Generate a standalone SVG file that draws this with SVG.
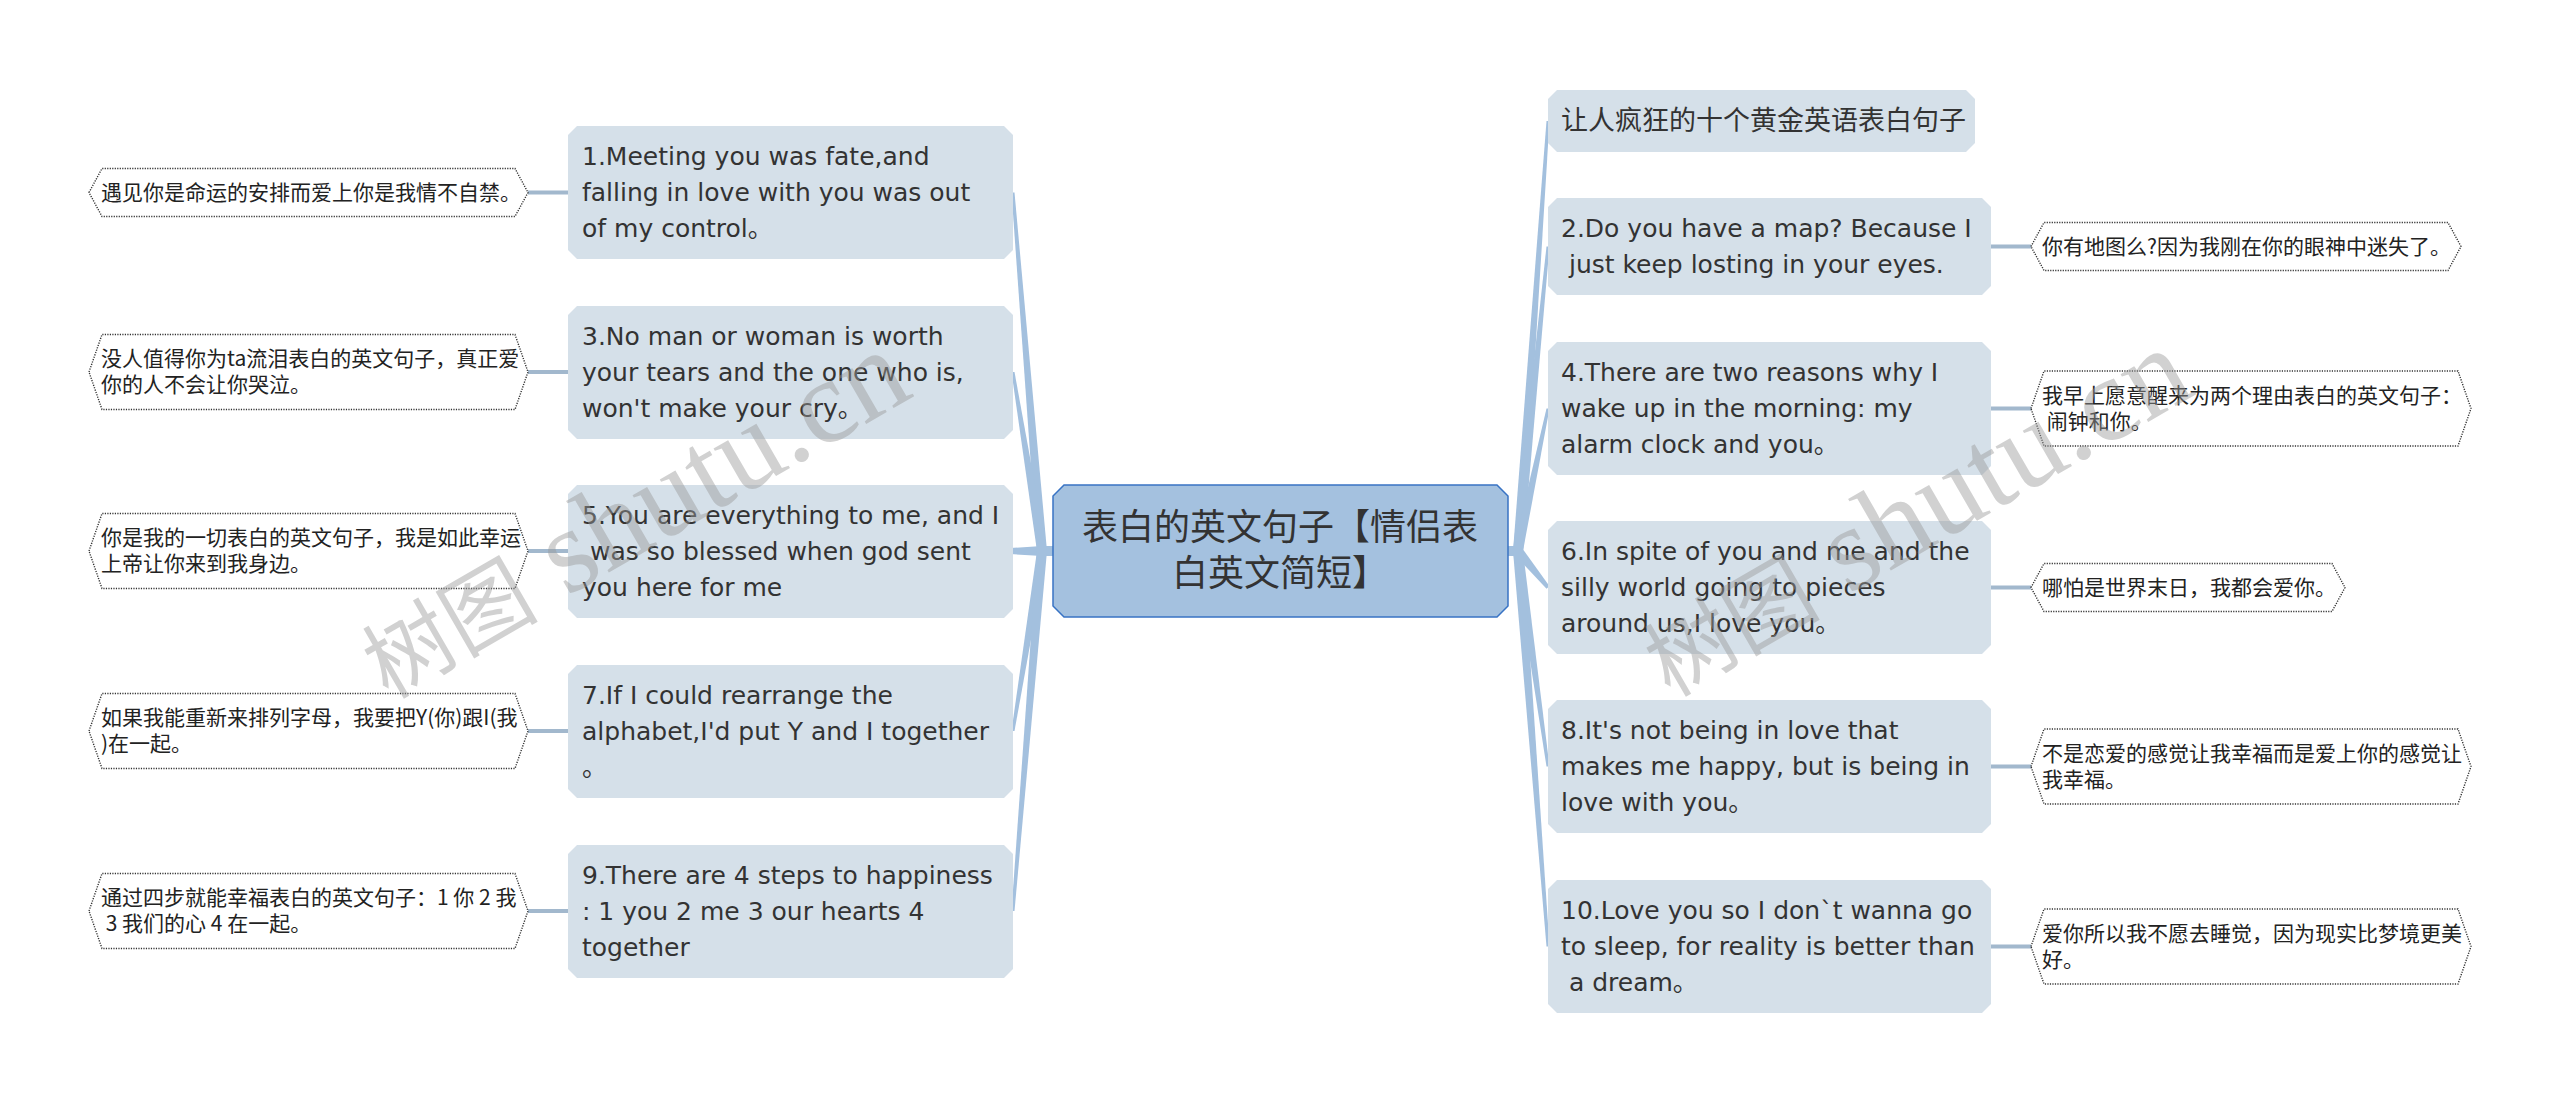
<svg xmlns="http://www.w3.org/2000/svg" xmlns:xlink="http://www.w3.org/1999/xlink" width="2560" height="1103" viewBox="0 0 2560 1103">
<style>
.nodebox{fill:#d5e0e9;}
.center{fill:#a4c1df;stroke:#3873c4;stroke-width:1.5;}
.leafbox{fill:#ffffff;stroke:#333;stroke-width:1.4;stroke-dasharray:1.2 1.3;}
.wedge{fill:#a3c0de;}
.leafline{stroke:#a2b8cd;stroke-width:4;fill:none;}
.en{font-family:"DejaVu Sans","Noto Sans CJK SC",sans-serif;font-size:25px;fill:#333;white-space:pre;}
.cn{font-family:"Noto Sans CJK SC",sans-serif;font-size:27px;fill:#333;}
.ct{font-family:"Noto Sans CJK SC",sans-serif;font-size:36px;fill:#333;text-anchor:middle;}
.lf{font-family:"Noto Sans CJK SC",sans-serif;font-size:21px;fill:#222;white-space:pre;}
.wm{fill:#9a9a9a;opacity:0.45;white-space:pre;}
</style>
<defs>
<path id="n3" d="M9,0 H436 L445,9 V124 L436,133 H9 L0,124 V9 Z"/>
<path id="n3r" d="M9,0 H434 L443,9 V124 L434,133 H9 L0,124 V9 Z"/>
<path id="n2r" d="M9,0 H434 L443,9 V88 L434,97 H9 L0,88 V9 Z"/>
<path id="n1r" d="M9,0 H418 L427,9 V53 L418,62 H9 L0,53 V9 Z"/>
<path id="hexL1" d="M0,24 L13,0 H426 L439,24 L426,48 H13 Z"/>
<path id="hexL2" d="M0,37.5 L13,0 H426 L439,37.5 L426,75 H13 Z"/>
<path id="hexR2s" d="M0,24 L13,0 H417 L430,24 L417,48 H13 Z"/>
<path id="hexR6" d="M0,24 L13,0 H301 L314,24 L301,48 H13 Z"/>
<path id="hexR2" d="M0,37.5 L13,0 H427 L440,37.5 L427,75 H13 Z"/>
</defs>

<g id="connectors">
  <rect class="wedge" x="1040" y="546" width="16" height="10"/>
  <rect class="wedge" x="1505" y="546" width="16" height="10"/>
  <polygon class="wedge" points="1037,551 1011.5,192.5 1014.5,192.5 1047,551"/>
  <polygon class="wedge" points="1037,551 1011.5,372 1014.5,372 1047,551"/>
  <polygon class="wedge" points="1042,546 1010,548 1010,554 1042,556"/>
  <polygon class="wedge" points="1037,551 1011.5,731 1014.5,731 1047,551"/>
  <polygon class="wedge" points="1037,551 1011.5,911 1014.5,911 1047,551"/>
  <polygon class="wedge" points="1513,551 1546.5,121 1549.5,121 1523,551"/>
  <polygon class="wedge" points="1513,551 1546.5,246.5 1549.5,246.5 1523,551"/>
  <polygon class="wedge" points="1513,551 1546.5,408.5 1549.5,408.5 1523,551"/>
  <polygon class="wedge" points="1514.2,554.3 1546.5,588.8 1549.5,586.2 1521.8,547.7"/>
  <polygon class="wedge" points="1513,551 1546.5,766.5 1549.5,766.5 1523,551"/>
  <polygon class="wedge" points="1513,551 1546.5,946.5 1549.5,946.5 1523,551"/>
  <line class="leafline" x1="528" y1="192.5" x2="568" y2="192.5"/>
  <line class="leafline" x1="528" y1="372" x2="568" y2="372"/>
  <line class="leafline" x1="528" y1="551" x2="568" y2="551"/>
  <line class="leafline" x1="528" y1="731" x2="568" y2="731"/>
  <line class="leafline" x1="528" y1="911" x2="568" y2="911"/>
  <line class="leafline" x1="1991" y1="246.5" x2="2031" y2="246.5"/>
  <line class="leafline" x1="1991" y1="408.5" x2="2031" y2="408.5"/>
  <line class="leafline" x1="1991" y1="587.5" x2="2031" y2="587.5"/>
  <line class="leafline" x1="1991" y1="766.5" x2="2031" y2="766.5"/>
  <line class="leafline" x1="1991" y1="946.5" x2="2031" y2="946.5"/>
</g>

<g id="root">
  <polygon class="center" points="1064,485 1497,485 1508,496 1508,606 1497,617 1064,617 1053,606 1053,496"/>
  <text class="ct"><tspan x="1280" y="540">表白的英文句子【情侣表</tspan><tspan x="1280" y="586">白英文简短】</tspan></text>
</g>

<g id="n1">
  <use xlink:href="#n3" class="nodebox" x="568" y="126"/>
  <text class="en"><tspan x="582" y="165">1.Meeting you was fate,and</tspan><tspan x="582" y="201">falling in love with you was out</tspan><tspan x="582" y="237">of my control。</tspan></text>
</g>
<g id="n3node">
  <use xlink:href="#n3" class="nodebox" x="568" y="306"/>
  <text class="en"><tspan x="582" y="345">3.No man or woman is worth</tspan><tspan x="582" y="381">your tears and the one who is,</tspan><tspan x="582" y="417">won't make your cry。</tspan></text>
</g>
<g id="n5">
  <use xlink:href="#n3" class="nodebox" x="568" y="485"/>
  <text class="en"><tspan x="582" y="524">5.You are everything to me, and I</tspan><tspan x="582" y="560"> was so blessed when god sent</tspan><tspan x="582" y="596">you here for me</tspan></text>
</g>
<g id="n7">
  <use xlink:href="#n3" class="nodebox" x="568" y="665"/>
  <text class="en"><tspan x="582" y="704">7.If I could rearrange the</tspan><tspan x="582" y="740">alphabet,I'd put Y and I together</tspan><tspan x="582" y="776">。</tspan></text>
</g>
<g id="n9">
  <use xlink:href="#n3" class="nodebox" x="568" y="845"/>
  <text class="en"><tspan x="582" y="884">9.There are 4 steps to happiness</tspan><tspan x="582" y="920">: 1 you 2 me 3 our hearts 4</tspan><tspan x="582" y="956">together</tspan></text>
</g>

<g id="n0">
  <use xlink:href="#n1r" class="nodebox" x="1548" y="90"/>
  <text class="cn" x="1561" y="130">让人疯狂的十个黄金英语表白句子</text>
</g>
<g id="n2">
  <use xlink:href="#n2r" class="nodebox" x="1548" y="198"/>
  <text class="en"><tspan x="1561" y="237">2.Do you have a map? Because I</tspan><tspan x="1561" y="273"> just keep losting in your eyes.</tspan></text>
</g>
<g id="n4">
  <use xlink:href="#n3r" class="nodebox" x="1548" y="342"/>
  <text class="en"><tspan x="1561" y="381">4.There are two reasons why I</tspan><tspan x="1561" y="417">wake up in the morning: my</tspan><tspan x="1561" y="453">alarm clock and you。</tspan></text>
</g>
<g id="n6">
  <use xlink:href="#n3r" class="nodebox" x="1548" y="521"/>
  <text class="en"><tspan x="1561" y="560">6.In spite of you and me and the</tspan><tspan x="1561" y="596">silly world going to pieces</tspan><tspan x="1561" y="632">around us,I love you。</tspan></text>
</g>
<g id="n8">
  <use xlink:href="#n3r" class="nodebox" x="1548" y="700"/>
  <text class="en"><tspan x="1561" y="739">8.It's not being in love that</tspan><tspan x="1561" y="775">makes me happy, but is being in</tspan><tspan x="1561" y="811">love with you。</tspan></text>
</g>
<g id="n10">
  <use xlink:href="#n3r" class="nodebox" x="1548" y="880"/>
  <text class="en"><tspan x="1561" y="919">10.Love you so I don`t wanna go</tspan><tspan x="1561" y="955">to sleep, for reality is better than</tspan><tspan x="1561" y="991"> a dream。</tspan></text>
</g>

<g id="leaf1">
  <use xlink:href="#hexL1" class="leafbox" x="89" y="168.5"/>
  <text class="lf" x="101" y="199.5">遇见你是命运的安排而爱上你是我情不自禁。</text>
</g>
<g id="leaf3">
  <use xlink:href="#hexL2" class="leafbox" x="89" y="334.5"/>
  <text class="lf"><tspan x="101" y="366">没人值得你为ta流泪表白的英文句子，真正爱</tspan><tspan x="101" y="392">你的人不会让你哭泣。</tspan></text>
</g>
<g id="leaf5">
  <use xlink:href="#hexL2" class="leafbox" x="89" y="513.5"/>
  <text class="lf"><tspan x="101" y="545">你是我的一切表白的英文句子，我是如此幸运</tspan><tspan x="101" y="571">上帝让你来到我身边。</tspan></text>
</g>
<g id="leaf7">
  <use xlink:href="#hexL2" class="leafbox" x="89" y="693.5"/>
  <text class="lf"><tspan x="101" y="725">如果我能重新来排列字母，我要把Y(你)跟I(我</tspan><tspan x="101" y="751">)在一起。</tspan></text>
</g>
<g id="leaf9">
  <use xlink:href="#hexL2" class="leafbox" x="89" y="873.5"/>
  <text class="lf"><tspan x="101" y="905">通过四步就能幸福表白的英文句子：1 你 2 我</tspan><tspan x="101" y="931"> 3 我们的心 4 在一起。</tspan></text>
</g>

<g id="leaf2">
  <use xlink:href="#hexR2s" class="leafbox" x="2031" y="222.5"/>
  <text class="lf" x="2042" y="253.5">你有地图么?因为我刚在你的眼神中迷失了。</text>
</g>
<g id="leaf4">
  <use xlink:href="#hexR2" class="leafbox" x="2031" y="371"/>
  <text class="lf"><tspan x="2042" y="402.5">我早上愿意醒来为两个理由表白的英文句子：</tspan><tspan x="2042" y="428.5"> 闹钟和你。</tspan></text>
</g>
<g id="leaf6">
  <use xlink:href="#hexR6" class="leafbox" x="2031" y="563.5"/>
  <text class="lf" x="2042" y="594.5">哪怕是世界末日，我都会爱你。</text>
</g>
<g id="leaf8">
  <use xlink:href="#hexR2" class="leafbox" x="2031" y="729"/>
  <text class="lf"><tspan x="2042" y="760.5">不是恋爱的感觉让我幸福而是爱上你的感觉让</tspan><tspan x="2042" y="786.5">我幸福。</tspan></text>
</g>
<g id="leaf10">
  <use xlink:href="#hexR2" class="leafbox" x="2031" y="909"/>
  <text class="lf"><tspan x="2042" y="940.5">爱你所以我不愿去睡觉，因为现实比梦境更美</tspan><tspan x="2042" y="966.5">好。</tspan></text>
</g>

<g id="watermarks">
  <text class="wm" transform="translate(388,700) rotate(-30)"><tspan font-family="Noto Sans CJK SC, sans-serif" font-size="88">树图</tspan><tspan font-family="Liberation Serif, serif" font-size="120"> shutu.cn</tspan></text>
  <text class="wm" transform="translate(1670,698) rotate(-30)"><tspan font-family="Noto Sans CJK SC, sans-serif" font-size="88">树图</tspan><tspan font-family="Liberation Serif, serif" font-size="120"> shutu.cn</tspan></text>
</g>
</svg>
